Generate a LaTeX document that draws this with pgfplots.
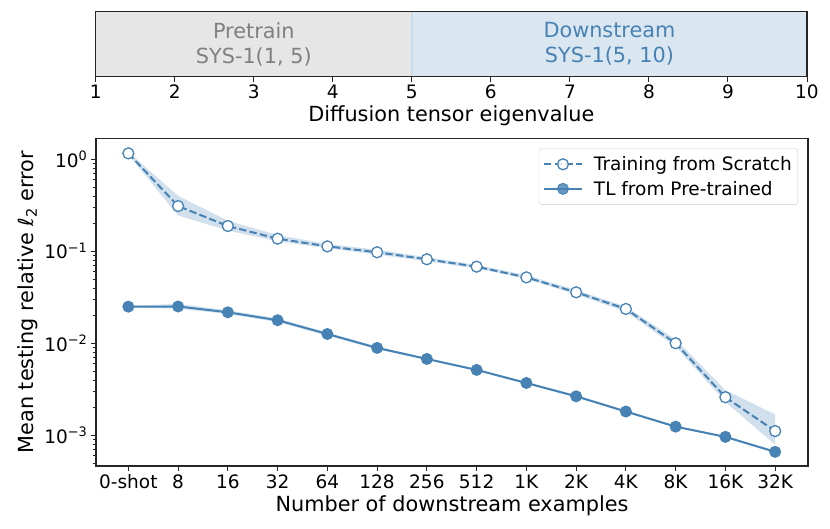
\documentclass[border=0pt]{standalone}
\usepackage{pgfplots}
\pgfplotsset{compat=1.18}
\usepackage{fontspec}
\setmainfont{DejaVu Sans}
\definecolor{steelblue}{HTML}{4682B4}
\definecolor{lgray}{HTML}{E6E6E6}
\definecolor{lblue}{HTML}{DAE6F0}
\newcommand{\tickfont}{\fontsize{18.5}{22.2}\selectfont}
\newcommand{\labfont}{\fontsize{20.8}{25}\selectfont}
\newcommand{\sci}[1]{10\textsuperscript{#1}}
\begin{document}
\begin{tikzpicture}
\begin{axis}[
  name=main, at={(0,0)}, anchor=south west,
  scale only axis, width=712pt, height=327.7pt,
  ymode=log, xmin=-0.65, xmax=13.66, ymin=4.63e-4, ymax=1.69,
  xtick={0,...,13},
  xticklabels={0-shot,8,16,32,64,128,256,512,1K,2K,4K,8K,16K,32K},
  ytick={1e-3,1e-2,1e-1,1},
  yticklabels={\sci{−3},\sci{−2},\sci{−1},\sci{0}},
  minor ytick={5e-4,6e-4,7e-4,8e-4,9e-4,2e-3,3e-3,4e-3,5e-3,6e-3,7e-3,8e-3,9e-3,2e-2,3e-2,4e-2,5e-2,6e-2,7e-2,8e-2,9e-2,2e-1,3e-1,4e-1,5e-1,6e-1,7e-1,8e-1,9e-1},
  tick align=outside, major tick length=5pt, minor tick length=3pt,
  xtick pos=lower, ytick pos=left,
  every tick/.style={black!85, line width=1pt},
  minor tick style={black!85, line width=0.7pt},
  axis line style={black!85, line width=1.1pt},
  tick label style={font=\tickfont},
  label style={font=\labfont},
  /pgf/number format/assume math mode=true,
  xlabel={Number of downstream examples},
  ylabel={Mean testing relative \textit{ℓ}\textsubscript{2} error},
  legend style={at={(1,1)}, anchor=north east, xshift=-10pt, yshift=-10pt,
    font=\tickfont, draw=black!20, rounded corners=3pt, fill=white,
    fill opacity=0.8, text opacity=1, inner xsep=4pt, inner ysep=6pt,
    row sep=5pt},
  legend cell align=left,
  legend image code/.code={\draw[mark repeat=2,mark phase=2] plot coordinates {(0pt,0pt)(19pt,0pt)(38pt,0pt)};},
]
\coordinate (mainSW) at (rel axis cs:0,0);
% bands
\addplot[fill=steelblue, fill opacity=0.25, draw=none, forget plot] coordinates {
(0,1.20)(1,0.40)(2,0.215)(3,0.150)(4,0.120)(5,0.104)(6,0.086)(7,0.071)(8,0.055)(9,0.038)(10,0.0250)(11,0.0110)(12,0.0031)(13,0.00168)
(13,0.00079)(12,0.0023)(11,0.0092)(10,0.0220)(9,0.034)(8,0.050)(7,0.065)(6,0.078)(5,0.092)(4,0.108)(3,0.128)(2,0.168)(1,0.245)(0,1.12)} -- cycle;
\addplot[fill=steelblue, fill opacity=0.25, draw=none, forget plot] coordinates {
(0,0.0255)(1,0.0268)(2,0.0228)(3,0.0186)(4,0.0131)(5,0.0092)(6,0.0069)(7,0.00525)(8,0.0038)(9,0.00272)(10,0.00186)(11,0.00127)(12,0.00098)(13,0.00068)
(13,0.00064)(12,0.00094)(11,0.00121)(10,0.00176)(9,0.00258)(8,0.0036)(7,0.00502)(6,0.0066)(5,0.0086)(4,0.0121)(3,0.0170)(2,0.0208)(1,0.0238)(0,0.0245)} -- cycle;
% lines
\addplot[steelblue, line width=2pt, dash pattern=on 7.4pt off 3.2pt,
  mark=*, mark size=5.5pt, mark options={solid, fill=white, draw=steelblue, line width=1.3pt}]
  coordinates {(0,1.16)(1,0.31)(2,0.188)(3,0.137)(4,0.113)(5,0.0975)(6,0.0818)(7,0.068)(8,0.052)(9,0.0358)(10,0.0236)(11,0.0100)(12,0.00259)(13,0.00111)};
\addlegendentry{\hspace{9pt}Training from Scratch}
\addplot[steelblue, line width=2pt,
  mark=*, mark size=5.5pt, mark options={solid, fill=steelblue, draw=steelblue, line width=1pt}]
  coordinates {(0,0.025)(1,0.0251)(2,0.0217)(3,0.0178)(4,0.0126)(5,0.0089)(6,0.00675)(7,0.00513)(8,0.0037)(9,0.00265)(10,0.00181)(11,0.00124)(12,0.00096)(13,0.00066)};
\addlegendentry{\hspace{9pt}TL from Pre-trained}
\end{axis}
\begin{axis}[
  name=top, at={(-0.3pt,389.3pt)}, anchor=south west,
  scale only axis, width=711.3pt, height=65pt,
  xmin=1, xmax=10, ymin=0, ymax=1,
  ytick=\empty, xtick={1,...,10},
  tick align=outside, major tick length=5pt, xtick pos=lower,
  every tick/.style={black!85, line width=1pt},
  axis line style={black!85, line width=1.1pt},
  tick label style={font=\tickfont},
  label style={font=\labfont},
  /pgf/number format/assume math mode=true,
  xlabel={Diffusion tensor eigenvalue},
  axis on top,
]
\addplot[fill=lgray, draw=none] coordinates {(1,0)(5,0)(5,1)(1,1)} -- cycle;
\addplot[fill=lblue, draw=none] coordinates {(5,0)(10,0)(10,1)(5,1)} -- cycle;
\addplot[steelblue!30, line width=1.5pt] coordinates {(5,0)(5,1)};
\node[align=center, text=gray, font=\labfont] at (axis cs:3,0.5) {Pretrain\\SYS-1(1, 5)};
\node[align=center, text=steelblue, font=\labfont] at (axis cs:7.5,0.5) {Downstream\\SYS-1(5, 10)};
\end{axis}
\pgfresetboundingbox
\useasboundingbox ([shift={(-96pt,-63pt)}]mainSW) rectangle ([shift={(734pt,466pt)}]mainSW);
\end{tikzpicture}
\end{document}
